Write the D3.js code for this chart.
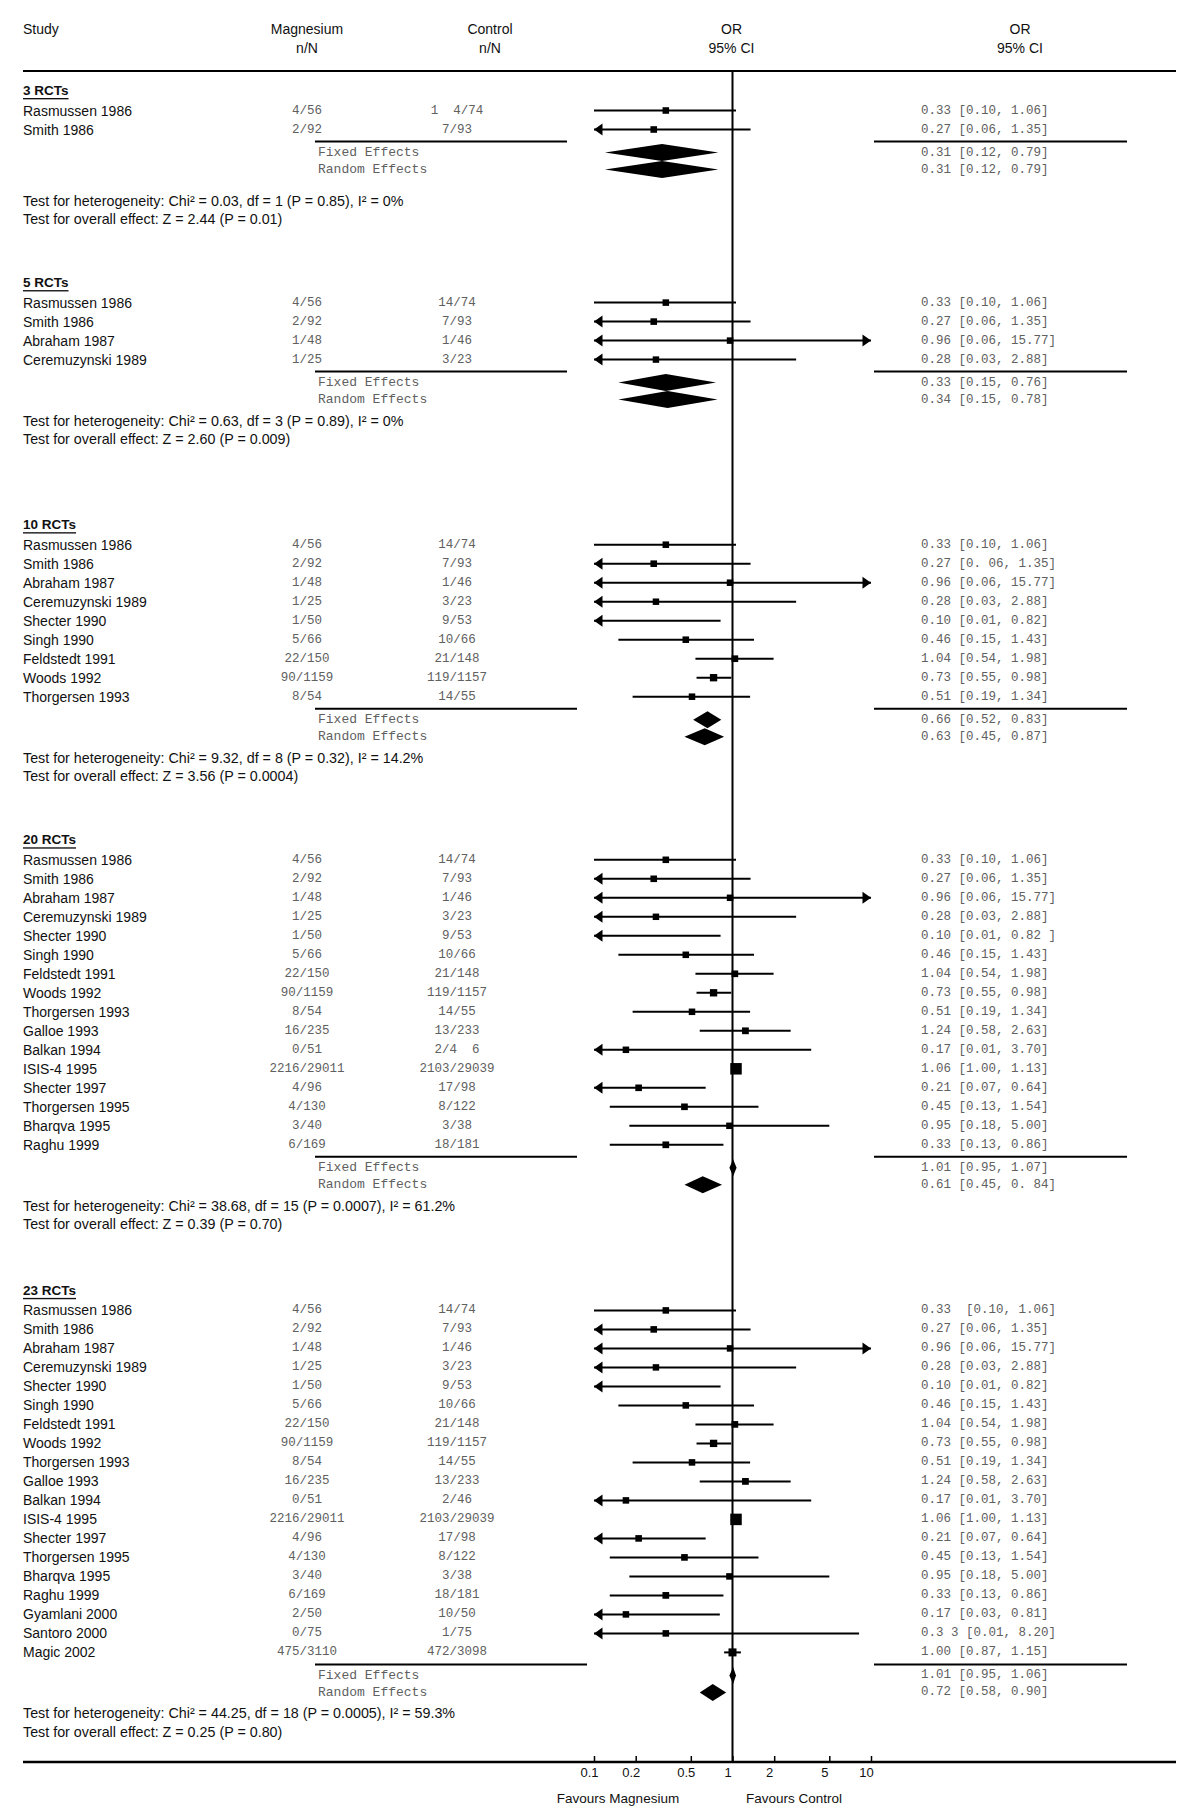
<!DOCTYPE html>
<html><head><meta charset="utf-8">
<script src="https://cdn.jsdelivr.net/npm/d3@7"></script>
<style>
body{margin:0;background:#fff}
text{white-space:pre}
</style>
</head><body>
<svg id="c" width="1200" height="1816"></svg>
<script>
// ---------------- DATA ----------------
const studies = ["Rasmussen 1986","Smith 1986","Abraham 1987","Ceremuzynski 1989","Shecter 1990","Singh 1990","Feldstedt 1991","Woods 1992","Thorgersen 1993","Galloe 1993","Balkan 1994","ISIS-4 1995","Shecter 1997","Thorgersen 1995","Bharqva 1995","Raghu 1999","Gyamlani 2000","Santoro 2000","Magic 2002"];
const magnesium = ["4/56","2/92","1/48","1/25","1/50","5/66","22/150","90/1159","8/54","16/235","0/51","2216/29011","4/96","4/130","3/40","6/169","2/50","0/75","475/3110"];
const control = ["14/74","7/93","1/46","3/23","9/53","10/66","21/148","119/1157","14/55","13/233","2/46","2103/29039","17/98","8/122","3/38","18/181","10/50","1/75","472/3098"];
const orValue = [0.33,0.27,0.96,0.28,0.10,0.46,1.04,0.73,0.51,1.24,0.17,1.06,0.21,0.45,0.95,0.33,0.17,0.33,1.00];
const ciLow = [0.10,0.06,0.06,0.03,0.01,0.15,0.54,0.55,0.19,0.58,0.01,1.00,0.07,0.13,0.18,0.13,0.03,0.01,0.87];
const ciHigh = [1.06,1.35,15.77,2.88,0.82,1.43,1.98,0.98,1.34,2.63,3.70,1.13,0.64,1.54,5.00,0.86,0.81,8.20,1.15];

const sectionLabels = ["3 RCTs","5 RCTs","10 RCTs","20 RCTs","23 RCTs"];
const sectionCounts = [2,4,9,16,19];
const fixedEffects = [[0.31,0.12,0.79],[0.33,0.15,0.76],[0.66,0.52,0.83],[1.01,0.95,1.07],[1.01,0.95,1.06]];
const randomEffects = [[0.31,0.12,0.79],[0.34,0.15,0.78],[0.63,0.45,0.87],[0.61,0.45,0.84],[0.72,0.58,0.90]];
const heterogeneity = [
  "Test for heterogeneity: Chi² = 0.03, df = 1 (P = 0.85), I² = 0%",
  "Test for heterogeneity: Chi² = 0.63, df = 3 (P = 0.89), I² = 0%",
  "Test for heterogeneity: Chi² = 9.32, df = 8 (P = 0.32), I² = 14.2%",
  "Test for heterogeneity: Chi² = 38.68, df = 15 (P = 0.0007), I² = 61.2%",
  "Test for heterogeneity: Chi² = 44.25, df = 18 (P = 0.0005), I² = 59.3%"];
const overallEffect = [
  "Test for overall effect: Z = 2.44 (P = 0.01)",
  "Test for overall effect: Z = 2.60 (P = 0.009)",
  "Test for overall effect: Z = 3.56 (P = 0.0004)",
  "Test for overall effect: Z = 0.39 (P = 0.70)",
  "Test for overall effect: Z = 0.25 (P = 0.80)"];
// text as printed in the figure (typos kept)
const controlTextAsPrinted = [[0,0,"1  4/74"],[3,10,"2/4  6"]];
const ciTextAsPrinted = [[2,1,"0.27 [0. 06, 1.35]"],[3,4,"0.10 [0.01, 0.82 ]"],[4,0,"0.33  [0.10, 1.06]"],[4,17,"0.3 3 [0.01, 8.20]"]];
const randomTextAsPrinted = [[3,"0.61 [0.45, 0. 84]"]];
const tickValues = [0.1,0.2,0.5,1,2,5,10];
const headers = {study:"Study", mg:["Magnesium","n/N"], ctl:["Control","n/N"], or:["OR","95% CI"]};
const favours = ["Favours Magnesium","Favours Control"];

// ---------------- LAYOUT ----------------
const SANS = "'Liberation Sans', Arial, sans-serif";
const MONO = "'Liberation Mono', 'Courier New', monospace";
const sectionTop = [90.5, 282.6, 524.7, 839.8, 1290.4];
const hetGap = [31, 21, 21, 21, 21];
const sepLeftEnd = [567, 567, 577, 577, 587];
const axisY = 1762, headerLineY = 71;
const colMg = 307, colCtl = 457, colCtlHead = 490, colCI = 921, colFE = 318;

const svg = d3.select("#c");
const x = d3.scaleLog().domain([0.1, 10]).range([594, 871]);
const f2 = d3.format(".2f");
const totalN = magnesium.map((m,i)=> +m.split("/")[1] + +control[i].split("/")[1]);
const boxSize = d3.scaleSqrt().domain([0, d3.max(totalN)]).range([6.3, 11.5]);

function txt(g, x0, y0, s, opt={}) {
  return g.append("text").attr("x", x0).attr("y", y0).text(s)
    .attr("dominant-baseline","central")
    .attr("font-family", opt.mono ? MONO : SANS)
    .attr("font-size", opt.size || (opt.mono ? 12.5 : 14))
    .attr("fill", opt.fill || (opt.mono ? "#606060" : "#111"))
    .attr("text-anchor", opt.anchor || "start")
    .attr("font-weight", opt.bold ? "bold" : null)
    .attr("text-decoration", opt.underline ? "underline" : null);
}

// header
const hd = svg.append("g");
txt(hd, 23, 29, headers.study);
txt(hd, colMg, 29, headers.mg[0], {anchor:"middle"});
txt(hd, colMg, 48, headers.mg[1], {anchor:"middle"});
txt(hd, colCtlHead, 29, headers.ctl[0], {anchor:"middle"});
txt(hd, colCtlHead, 48, headers.ctl[1], {anchor:"middle"});
txt(hd, x(1)-1, 29, headers.or[0], {anchor:"middle"});
txt(hd, x(1)-1, 48, headers.or[1], {anchor:"middle"});
txt(hd, 1020, 29, headers.or[0], {anchor:"middle"});
txt(hd, 1020, 48, headers.or[1], {anchor:"middle"});
hd.append("line").attr("x1",23).attr("x2",1176).attr("y1",headerLineY).attr("y2",headerLineY)
  .attr("stroke","#000").attr("stroke-width",2);

// vertical line of no effect
svg.append("line").attr("x1",x(1)).attr("x2",x(1)).attr("y1",headerLineY).attr("y2",axisY)
  .attr("stroke","#000").attr("stroke-width",2);

function arrow(g, xt, y, dir) {
  const L = 8.5, H = 6;
  g.append("path").attr("d", `M${xt},${y} L${xt - dir*L},${y-H} L${xt - dir*L},${y+H} Z`).attr("fill","#000");
}
function diamond(g, v, y) {
  const h = 8.5;
  g.append("path").attr("d", `M${x(v[1])},${y} L${x(v[0])},${y-h} L${x(v[2])},${y} L${x(v[0])},${y+h} Z`).attr("fill","#000");
}

sectionLabels.forEach((lab, s) => {
  const g = svg.append("g");
  const top = sectionTop[s];
  const row = d3.scaleLinear().domain([0,1]).range([top+20, top+39]);
  txt(g, 23, top, lab, {bold:true, underline:true, size:13.5});
  const n = sectionCounts[s];
  d3.range(n).forEach(i => {
    const y = row(i);
    txt(g, 23, y, studies[i]);
    txt(g, colMg, y, magnesium[i], {mono:true, anchor:"middle"});
    const ct = controlTextAsPrinted.find(d => d[0]===s && d[1]===i);
    txt(g, colCtl, y, ct ? ct[2] : control[i], {mono:true, anchor:"middle"});
    const cit = ciTextAsPrinted.find(d => d[0]===s && d[1]===i);
    txt(g, colCI, y, cit ? cit[2] : `${f2(orValue[i])} [${f2(ciLow[i])}, ${f2(ciHigh[i])}]`, {mono:true});
    const [d0, d1] = x.domain();
    const lo = Math.max(ciLow[i], d0), hi = Math.min(ciHigh[i], d1);
    g.append("line").attr("x1", x(lo)).attr("x2", x(hi)).attr("y1", y).attr("y2", y)
      .attr("stroke","#000").attr("stroke-width",2);
    if (orValue[i] > d0 && orValue[i] < d1) {
      const b = boxSize(totalN[i]);
      g.append("rect").attr("x", x(orValue[i]) - b/2).attr("y", y - b/2).attr("width", b).attr("height", b).attr("fill","#000");
    }
    if (ciLow[i] < d0) arrow(g, x(d0), y, -1);
    if (ciHigh[i] > d1) arrow(g, x(d1), y, 1);
  });
  const sepY = row(n-1) + 12;
  g.append("line").attr("x1",315).attr("x2",sepLeftEnd[s]).attr("y1",sepY).attr("y2",sepY).attr("stroke","#000").attr("stroke-width",2);
  g.append("line").attr("x1",874).attr("x2",1127).attr("y1",sepY).attr("y2",sepY).attr("stroke","#000").attr("stroke-width",2);
  const yF = sepY + 11, yR = sepY + 28;
  txt(g, colFE, yF, "Fixed Effects", {mono:true, size:13});
  txt(g, colFE, yR, "Random Effects", {mono:true, size:13});
  diamond(g, fixedEffects[s], yF);
  diamond(g, randomEffects[s], yR);
  const fe = fixedEffects[s], re = randomEffects[s];
  txt(g, colCI, yF, `${f2(fe[0])} [${f2(fe[1])}, ${f2(fe[2])}]`, {mono:true});
  const rt = randomTextAsPrinted.find(d => d[0]===s);
  txt(g, colCI, yR, rt ? rt[1] : `${f2(re[0])} [${f2(re[1])}, ${f2(re[2])}]`, {mono:true});
  const yH = yR + hetGap[s];
  txt(g, 23, yH, heterogeneity[s], {size:14.3});
  txt(g, 23, yH + 18.5, overallEffect[s], {size:14.3});
});

// axis
svg.append("line").attr("x1",23).attr("x2",1176).attr("y1",axisY).attr("y2",axisY).attr("stroke","#000").attr("stroke-width",2.5);
const ax = svg.append("g").attr("transform",`translate(0,${axisY})`)
  .call(d3.axisBottom(x).tickValues(tickValues).tickSize(-6).tickPadding(6).tickFormat(d3.format("~g")));
ax.select(".domain").remove();
ax.selectAll(".tick line").attr("stroke","#000").attr("stroke-width",1.5);
ax.selectAll(".tick text").attr("x",-5).attr("font-family",SANS).attr("font-size",13).attr("fill","#111");
txt(svg, 618, 1798, favours[0], {anchor:"middle", size:13.5});
txt(svg, 794, 1798, favours[1], {anchor:"middle", size:13.5});
</script>
</body></html>
